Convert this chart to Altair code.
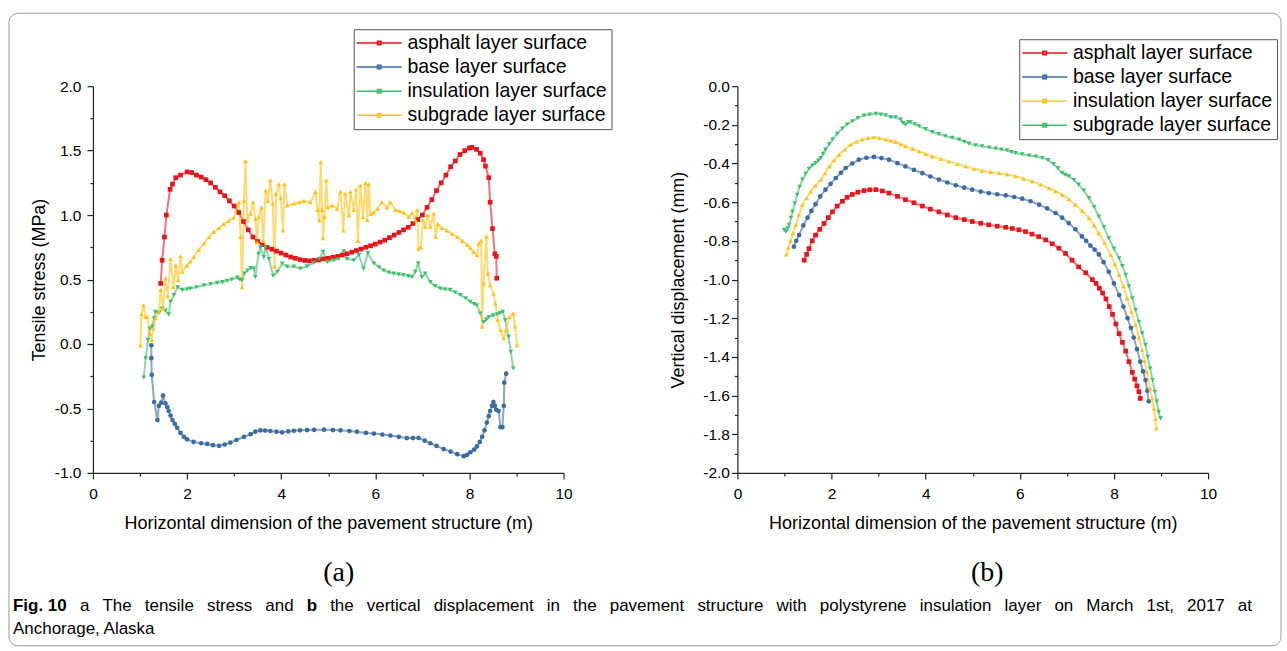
import altair as alt
import pandas as pd

SERIES = ["asphalt layer surface", "base layer surface",
          "insulation layer surface", "subgrade layer surface"]

RED, BLUE, GREEN, YELLOW = "#E8141B", "#3A6BA3", "#3DBE6C", "#FFC114"

# ---------------- panel (a): tensile stress (MPa) ----------------
stress_asphalt = [(1.44,0.47),(1.47,0.65),(1.52,0.83),(1.56,1.0),(1.64,1.2),(1.69,1.24),(1.76,1.29),(1.86,1.31),(2.0,1.335),(2.1,1.33),(2.2,1.31),(2.3,1.295),(2.4,1.275),(2.5,1.25),(2.6,1.215),(2.7,1.18),(2.8,1.15),(2.9,1.11),(3.0,1.07),(3.1,1.02),(3.2,0.95),(3.3,0.885),(3.4,0.83),(3.5,0.795),(3.6,0.77),(3.7,0.75),(3.8,0.735),(3.9,0.72),(4.0,0.705),(4.1,0.69),(4.2,0.675),(4.3,0.665),(4.4,0.655),(4.5,0.648),(4.6,0.645),(4.7,0.648),(4.8,0.652),(4.9,0.66),(5.0,0.665),(5.1,0.672),(5.2,0.68),(5.3,0.69),(5.4,0.70),(5.5,0.712),(5.6,0.725),(5.7,0.737),(5.8,0.75),(5.9,0.762),(6.0,0.775),(6.1,0.79),(6.2,0.805),(6.3,0.825),(6.4,0.845),(6.5,0.865),(6.6,0.885),(6.7,0.905),(6.8,0.935),(6.9,0.965),(7.0,1.0),(7.1,1.06),(7.2,1.12),(7.3,1.19),(7.4,1.25),(7.5,1.31),(7.6,1.375),(7.7,1.42),(7.8,1.47),(7.9,1.50),(8.0,1.52),(8.05,1.525),(8.15,1.51),(8.23,1.48),(8.3,1.43),(8.34,1.38),(8.41,1.29),(8.44,1.10),(8.49,0.895),(8.54,0.70),(8.57,0.68),(8.58,0.51)]

stress_base = [(1.24,-0.01),(1.24,-0.11),(1.25,-0.24),(1.30,-0.45),(1.37,-0.59),(1.40,-0.48),(1.45,-0.455),(1.49,-0.40),(1.54,-0.46),(1.58,-0.49),(1.61,-0.52),(1.65,-0.555),(1.69,-0.59),(1.74,-0.62),(1.79,-0.65),(1.86,-0.69),(1.93,-0.72),(2.0,-0.74),(2.14,-0.76),(2.3,-0.77),(2.43,-0.775),(2.55,-0.785),(2.68,-0.79),(2.8,-0.78),(2.92,-0.765),(3.05,-0.745),(3.21,-0.72),(3.35,-0.70),(3.45,-0.68),(3.56,-0.67),(3.66,-0.672),(3.77,-0.675),(3.9,-0.68),(4.02,-0.685),(4.15,-0.678),(4.27,-0.673),(4.4,-0.67),(4.55,-0.668),(4.7,-0.666),(4.91,-0.665),(5.1,-0.668),(5.26,-0.67),(5.45,-0.675),(5.61,-0.68),(5.8,-0.69),(5.97,-0.695),(6.15,-0.703),(6.32,-0.71),(6.5,-0.72),(6.67,-0.73),(6.8,-0.73),(6.92,-0.73),(7.05,-0.75),(7.17,-0.77),(7.3,-0.79),(7.45,-0.815),(7.6,-0.835),(7.74,-0.855),(7.88,-0.87),(7.95,-0.86),(8.02,-0.84),(8.1,-0.82),(8.16,-0.795),(8.22,-0.76),(8.27,-0.72),(8.32,-0.67),(8.37,-0.61),(8.41,-0.56),(8.44,-0.52),(8.48,-0.48),(8.51,-0.45),(8.54,-0.48),(8.57,-0.51),(8.62,-0.52),(8.66,-0.645),(8.70,-0.645),(8.73,-0.48),(8.74,-0.30),(8.78,-0.23)]

stress_insulation = [(1.08,-0.26),(1.12,-0.11),(1.17,0.03),(1.21,0.12),(1.26,0.135),(1.30,0.20),(1.33,0.25),(1.40,0.24),(1.47,0.275),(1.54,0.26),(1.61,0.23),(1.65,0.33),(1.72,0.38),(1.80,0.44),(1.90,0.42),(2.0,0.425),(2.07,0.43),(2.2,0.44),(2.36,0.456),(2.5,0.465),(2.64,0.474),(2.75,0.48),(2.85,0.49),(2.95,0.50),(3.07,0.515),(3.12,0.50),(3.17,0.495),(3.22,0.547),(3.28,0.57),(3.35,0.59),(3.42,0.585),(3.45,0.52),(3.52,0.70),(3.56,0.75),(3.63,0.675),(3.67,0.75),(3.74,0.66),(3.83,0.53),(3.92,0.56),(4.02,0.625),(4.13,0.60),(4.27,0.60),(4.41,0.585),(4.55,0.603),(4.69,0.63),(4.80,0.66),(4.89,0.715),(4.98,0.637),(5.12,0.65),(5.22,0.66),(5.33,0.72),(5.40,0.66),(5.54,0.65),(5.65,0.69),(5.75,0.585),(5.84,0.705),(5.97,0.625),(6.08,0.595),(6.18,0.57),(6.29,0.555),(6.39,0.547),(6.50,0.54),(6.60,0.535),(6.70,0.527),(6.78,0.52),(6.85,0.56),(6.91,0.625),(6.99,0.52),(7.06,0.547),(7.17,0.48),(7.27,0.45),(7.38,0.43),(7.48,0.425),(7.59,0.42),(7.7,0.40),(7.81,0.38),(7.92,0.355),(8.02,0.327),(8.10,0.31),(8.16,0.30),(8.23,0.237),(8.30,0.17),(8.36,0.19),(8.41,0.21),(8.5,0.22),(8.59,0.23),(8.65,0.24),(8.71,0.25),(8.76,0.185),(8.83,0.056),(8.88,-0.06),(8.93,-0.19)]

stress_subgrade = [(1.01,-0.01),(1.03,0.23),(1.07,0.30),(1.12,0.21),(1.15,0.21),(1.21,0.08),(1.25,0.03),(1.28,0.12),(1.33,0.20),(1.40,0.25),(1.44,0.42),(1.49,0.28),(1.54,0.51),(1.59,0.37),(1.65,0.66),(1.71,0.44),(1.76,0.61),(1.81,0.495),(1.86,0.68),(1.90,0.56),(2.0,0.61),(2.07,0.64),(2.14,0.675),(2.25,0.73),(2.36,0.78),(2.47,0.83),(2.57,0.87),(2.68,0.90),(2.78,0.93),(2.88,0.955),(2.99,0.98),(3.10,1.10),(3.14,0.83),(3.17,0.44),(3.21,1.11),(3.24,1.42),(3.28,0.96),(3.35,1.01),(3.40,1.10),(3.45,0.97),(3.49,0.79),(3.52,0.985),(3.58,1.06),(3.62,0.80),(3.67,1.19),(3.72,1.11),(3.77,1.27),(3.82,1.09),(3.86,0.60),(3.89,1.165),(3.95,1.24),(3.99,1.13),(4.04,0.88),(4.07,1.24),(4.13,1.075),(4.27,1.09),(4.38,1.10),(4.48,1.11),(4.62,1.10),(4.73,1.18),(4.77,1.04),(4.81,0.96),(4.84,1.41),(4.87,1.04),(4.89,0.82),(4.92,0.985),(4.96,1.27),(4.99,1.06),(5.08,1.075),(5.19,1.05),(5.26,1.18),(5.32,0.88),(5.36,1.165),(5.44,0.998),(5.47,1.18),(5.54,1.04),(5.59,1.20),(5.63,0.80),(5.68,1.23),(5.74,0.985),(5.79,1.25),(5.83,0.96),(5.86,1.24),(5.90,1.01),(5.97,1.02),(6.05,1.05),(6.14,1.10),(6.25,1.06),(6.32,1.10),(6.43,1.04),(6.52,1.03),(6.60,1.02),(6.71,0.985),(6.78,1.015),(6.85,0.96),(6.89,1.04),(6.92,0.74),(6.97,0.75),(7.01,0.96),(7.06,0.91),(7.11,1.0),(7.17,0.91),(7.24,1.01),(7.28,0.83),(7.33,0.93),(7.42,0.90),(7.52,0.88),(7.63,0.855),(7.74,0.83),(7.85,0.80),(7.95,0.77),(8.02,0.745),(8.09,0.715),(8.16,0.69),(8.20,0.78),(8.25,0.80),(8.27,0.134),(8.30,0.47),(8.36,0.835),(8.39,0.547),(8.44,0.456),(8.51,0.39),(8.55,0.315),(8.60,0.186),(8.66,0.108),(8.73,0.044),(8.78,0.108),(8.85,0.21),(8.93,0.237),(8.97,0.134),(9.01,-0.01)]

# ---------------- panel (b): vertical displacement (mm) ----------------
disp_asphalt = [(1.42,-0.90),(1.47,-0.87),(1.52,-0.84),(1.59,-0.80),(1.66,-0.77),(1.75,-0.74),(1.84,-0.71),(1.93,-0.68),(2.02,-0.65),(2.12,-0.62),(2.23,-0.595),(2.33,-0.575),(2.44,-0.56),(2.56,-0.548),(2.69,-0.54),(2.81,-0.536),(2.94,-0.535),(3.08,-0.542),(3.22,-0.553),(3.4,-0.57),(3.57,-0.587),(3.75,-0.603),(3.93,-0.62),(4.1,-0.636),(4.28,-0.65),(4.46,-0.666),(4.64,-0.68),(4.82,-0.69),(4.99,-0.70),(5.17,-0.709),(5.34,-0.717),(5.52,-0.724),(5.70,-0.73),(5.84,-0.736),(5.98,-0.743),(6.12,-0.752),(6.26,-0.765),(6.4,-0.778),(6.55,-0.795),(6.69,-0.815),(6.83,-0.838),(6.97,-0.865),(7.11,-0.90),(7.25,-0.935),(7.40,-0.965),(7.54,-1.0),(7.62,-1.02),(7.69,-1.045),(7.76,-1.07),(7.83,-1.10),(7.90,-1.14),(7.97,-1.18),(8.04,-1.23),(8.11,-1.28),(8.18,-1.325),(8.25,-1.37),(8.32,-1.425),(8.39,-1.48),(8.44,-1.515),(8.49,-1.55),(8.53,-1.58),(8.56,-1.615)]

disp_base = [(1.20,-0.83),(1.25,-0.80),(1.31,-0.77),(1.40,-0.72),(1.49,-0.68),(1.57,-0.645),(1.66,-0.61),(1.76,-0.57),(1.87,-0.535),(1.98,-0.505),(2.09,-0.475),(2.2,-0.448),(2.30,-0.423),(2.44,-0.40),(2.58,-0.38),(2.74,-0.37),(2.90,-0.366),(3.06,-0.372),(3.22,-0.38),(3.4,-0.398),(3.57,-0.415),(3.75,-0.433),(3.93,-0.45),(4.1,-0.467),(4.28,-0.483),(4.46,-0.498),(4.64,-0.513),(4.82,-0.525),(4.99,-0.535),(5.17,-0.545),(5.34,-0.553),(5.52,-0.559),(5.70,-0.565),(5.88,-0.573),(6.05,-0.582),(6.23,-0.595),(6.41,-0.613),(6.58,-0.632),(6.76,-0.656),(6.90,-0.68),(7.04,-0.708),(7.18,-0.74),(7.32,-0.777),(7.41,-0.80),(7.5,-0.825),(7.59,-0.845),(7.68,-0.87),(7.78,-0.91),(7.89,-0.96),(8.0,-1.02),(8.11,-1.08),(8.2,-1.14),(8.29,-1.20),(8.36,-1.25),(8.42,-1.30),(8.49,-1.36),(8.56,-1.425),(8.62,-1.475),(8.67,-1.52),(8.71,-1.575),(8.74,-1.63)]

disp_insulation = [(1.04,-0.87),(1.08,-0.835),(1.13,-0.80),(1.18,-0.76),(1.24,-0.717),(1.31,-0.665),(1.38,-0.613),(1.47,-0.578),(1.56,-0.544),(1.66,-0.513),(1.77,-0.483),(1.86,-0.45),(1.95,-0.415),(2.05,-0.383),(2.16,-0.354),(2.28,-0.327),(2.41,-0.302),(2.53,-0.287),(2.65,-0.276),(2.78,-0.268),(2.90,-0.264),(3.02,-0.268),(3.15,-0.276),(3.26,-0.282),(3.36,-0.288),(3.47,-0.30),(3.57,-0.31),(3.72,-0.324),(3.86,-0.337),(4.0,-0.35),(4.14,-0.363),(4.32,-0.376),(4.49,-0.389),(4.67,-0.402),(4.85,-0.415),(5.02,-0.427),(5.20,-0.437),(5.38,-0.444),(5.56,-0.449),(5.73,-0.457),(5.91,-0.466),(6.08,-0.478),(6.26,-0.492),(6.44,-0.508),(6.62,-0.527),(6.76,-0.543),(6.90,-0.561),(7.04,-0.585),(7.18,-0.613),(7.33,-0.645),(7.47,-0.682),(7.58,-0.72),(7.68,-0.76),(7.8,-0.81),(7.93,-0.872),(8.02,-0.92),(8.11,-0.976),(8.2,-1.035),(8.28,-1.097),(8.37,-1.165),(8.46,-1.235),(8.53,-1.30),(8.60,-1.364),(8.65,-1.42),(8.70,-1.477),(8.77,-1.563),(8.81,-1.615),(8.85,-1.667),(8.88,-1.72),(8.90,-1.77)]

disp_subgrade = [(0.99,-0.743),(1.03,-0.752),(1.07,-0.735),(1.10,-0.717),(1.14,-0.68),(1.17,-0.648),(1.22,-0.605),(1.27,-0.561),(1.32,-0.52),(1.38,-0.483),(1.45,-0.453),(1.52,-0.427),(1.59,-0.41),(1.66,-0.397),(1.72,-0.385),(1.77,-0.371),(1.82,-0.35),(1.87,-0.328),(1.95,-0.30),(2.02,-0.276),(2.12,-0.246),(2.23,-0.219),(2.33,-0.198),(2.44,-0.181),(2.56,-0.165),(2.69,-0.152),(2.81,-0.146),(2.94,-0.143),(3.05,-0.146),(3.15,-0.150),(3.26,-0.161),(3.36,-0.161),(3.47,-0.173),(3.52,-0.19),(3.57,-0.198),(3.63,-0.185),(3.68,-0.187),(3.77,-0.197),(3.86,-0.207),(4.0,-0.222),(4.14,-0.237),(4.28,-0.248),(4.42,-0.259),(4.56,-0.267),(4.71,-0.276),(4.82,-0.287),(4.92,-0.297),(5.06,-0.305),(5.20,-0.311),(5.35,-0.317),(5.49,-0.323),(5.61,-0.327),(5.73,-0.332),(5.82,-0.34),(5.91,-0.346),(6.05,-0.352),(6.20,-0.358),(6.34,-0.364),(6.48,-0.371),(6.60,-0.382),(6.72,-0.403),(6.81,-0.425),(6.90,-0.449),(6.97,-0.458),(7.04,-0.466),(7.15,-0.485),(7.25,-0.509),(7.36,-0.54),(7.47,-0.579),(7.58,-0.625),(7.68,-0.674),(7.79,-0.73),(7.89,-0.786),(8.0,-0.84),(8.11,-0.89),(8.18,-0.93),(8.25,-0.976),(8.32,-1.035),(8.39,-1.097),(8.46,-1.158),(8.53,-1.218),(8.60,-1.278),(8.67,-1.338),(8.72,-1.40),(8.77,-1.46),(8.82,-1.52),(8.87,-1.58),(8.91,-1.63),(8.95,-1.684),(8.99,-1.718)]

# ---------------- axis ticks ----------------
X_TICKS = [0, 1, 2, 3, 4, 5, 6, 7, 8, 9, 10]
Y_TICKS_A = [-1.0, -0.75, -0.5, -0.25, 0.0, 0.25, 0.5, 0.75, 1.0, 1.25, 1.5, 1.75, 2.0]
Y_TICKS_B = [-2.0, -1.9, -1.8, -1.7, -1.6, -1.5, -1.4, -1.3, -1.2, -1.1, -1.0,
             -0.9, -0.8, -0.7, -0.6, -0.5, -0.4, -0.3, -0.2, -0.1, 0.0]

X_TITLE = "Horizontal dimension of the pavement structure (m)"
FONT = "Liberation Sans"
W, H = 471, 387

CAPTION_1 = ["a", "The", "tensile", "stress", "and", "b", "the", "vertical", "displacement",
             "in", "the", "pavement", "structure", "with", "polystyrene", "insulation",
             "layer", "on", "March", "1st,", "2017", "at"]
CAPTION_BOLD = {"b"}
CAPTION_2 = "Anchorage, Alaska"


def to_frame(lists):
    rows = []
    for name, pts in zip(SERIES, lists):
        for i, (x, y) in enumerate(pts):
            rows.append({"x": x, "y": y, "series": name, "i": i})
    return pd.DataFrame(rows)


LEG_PATH = "M-4.5,0H4.5M-0.35,-0.35H0.35V0.35H-0.35Z"


def panel(df, colors, shapes, ydomain, yticks, mult, ytitle, legx, legy, ylabpad, ytitlepad):
    major_y = f"abs(datum.value*{mult} - round(datum.value*{mult})) < 0.001"
    major_x = "datum.value % 2 === 0"
    xaxis = alt.Axis(values=X_TICKS, tickCount=100, title=X_TITLE, grid=False,
                     labelExpr=f"{major_x} ? format(datum.value, 'd') : ''",
                     labelFontSize=15.5,
                     tickSize={"condition": {"test": major_x, "value": 6}, "value": 3},
                     labelOverlap=False, labelFlush=False, labelPadding=8, titlePadding=12)
    yaxis = alt.Axis(values=yticks, tickCount=100, title=ytitle, grid=False,
                     labelExpr=f"{major_y} ? replace(format(datum.value, '.1f'), '\u2212', '-') : ''",
                     labelFontSize=15.5,
                     tickSize={"condition": {"test": major_y, "value": 6}, "value": 3},
                     labelOverlap=False, labelFlush=False, labelPadding=ylabpad,
                     titlePadding=ytitlepad)
    legend = alt.Legend(title=None, orient="none", legendX=legx, legendY=legy,
                        symbolType=LEG_PATH, symbolSize=100, symbolStrokeWidth=1.5,
                        symbolOffset=11.75, labelOffset=18.5, labelFont=FONT,
                        labelFontSize=19.5, labelColor="black", labelLimit=400,
                        padding=4, rowPadding=3.1, strokeColor="#555555",
                        fillColor="white")
    base = alt.Chart(df)
    xs = alt.Scale(domain=[0, 10], nice=False)
    ys = alt.Scale(domain=ydomain, nice=False, zero=False)
    line = base.mark_line(strokeWidth=2, strokeOpacity=0.6).encode(
        x=alt.X("x:Q", scale=xs, axis=xaxis),
        y=alt.Y("y:Q", scale=ys, axis=yaxis),
        color=alt.Color("series:N", scale=alt.Scale(domain=SERIES, range=colors), legend=legend),
        order="i:Q",
    )
    pts = base.mark_point(filled=True, size=22, opacity=1).encode(
        x="x:Q", y="y:Q",
        fill=alt.Fill("series:N", scale=alt.Scale(domain=SERIES, range=colors), legend=None),
        shape=alt.Shape("series:N", scale=alt.Scale(domain=SERIES, range=shapes), legend=None),
    )
    return alt.layer(line, pts).resolve_scale(
        color="independent", fill="independent", shape="independent"
    ).resolve_legend(color="independent", fill="independent", shape="independent"
    ).properties(width=W, height=H)


left = panel(to_frame([stress_asphalt, stress_base, stress_insulation, stress_subgrade]),
             [RED, BLUE, GREEN, YELLOW],
             ["square", "circle", "triangle-down", "triangle-up"],
             [-1, 2], Y_TICKS_A, 2, "Tensile stress (MPa)", 261, -57, 6, 6)

right = panel(to_frame([disp_asphalt, disp_base, disp_insulation, disp_subgrade]),
              [RED, BLUE, YELLOW, GREEN],
              ["square", "circle", "triangle-up", "triangle-down"],
              [-2, 0], Y_TICKS_B, 5, "Vertical displacement (mm)", 282, -47, 2, 15)

# ---------------- caption / frame view ----------------
cap_df = pd.DataFrame({"k": [0]})
capbase = alt.Chart(cap_df).properties(width=W, height=10)
CAP_FONT = "Liberation Sans"
CAP_SIZE = 17

# approximate Arial advance widths (per em) used to justify caption line 1
_WID = {**{c: 0.556 for c in "abdeghnopqu0123456789"}, "c": 0.5, "f": 0.278, "i": 0.222,
        "j": 0.222, "k": 0.5, "l": 0.222, "m": 0.833, "r": 0.333, "s": 0.5, "t": 0.278,
        "v": 0.5, "w": 0.722, "x": 0.5, "y": 0.5, "z": 0.5, "T": 0.611, "M": 0.833,
        "A": 0.667, ",": 0.278, ".": 0.278}


def wid(word, bold=False):
    return sum(_WID.get(c, 0.556) for c in word) * CAP_SIZE * (1.1 if bold else 1.0)


def txt(s, x, y, **kw):
    opts = {"align": "left", "baseline": "middle"}
    opts.update(kw)
    return capbase.mark_text(text=s, **opts).encode(x=alt.value(x), y=alt.value(y))


frame = capbase.mark_rect(fillOpacity=0, stroke="#9a9a9a", strokeWidth=1, cornerRadius=9).encode(
    x=alt.value(-84), x2=alt.value(1189), y=alt.value(-588), y2=alt.value(45))

# justify line 1 from page x=79 to page x=1252 (view origin at page x=92)
x_start, x_end = 79 - 92, 1252 - 92
widths = [wid(w, w in CAPTION_BOLD) for w in CAPTION_1]
gap = (x_end - x_start - sum(widths)) / (len(CAPTION_1) - 1)
words = []
xpos = x_start
for w, wd in zip(CAPTION_1, widths):
    words.append(txt(w, xpos, 5, font=CAP_FONT, fontSize=CAP_SIZE,
                     fontWeight="bold" if w in CAPTION_BOLD else "normal"))
    xpos += wd + gap

cap = alt.layer(
    frame,
    txt("(a)", 246, -28, font="Liberation Serif", fontSize=28, align="center"),
    txt("(b)", 895, -28, font="Liberation Serif", fontSize=28, align="center"),
    txt("Fig. 10", -80, 5, font=CAP_FONT, fontSize=CAP_SIZE, fontWeight="bold"),
    *words,
    txt(CAPTION_2, -80, 28, font=CAP_FONT, fontSize=CAP_SIZE),
)

chart = alt.concat(left, right, cap, columns=2,
                   spacing={"row": 128, "column": 174}, bounds="flush").resolve_scale(
    color="independent", fill="independent", shape="independent"
).properties(
    padding={"left": 8, "top": 12, "right": 5, "bottom": 5}
).configure_view(stroke=None).configure_axis(
    labelFont=FONT, titleFont=FONT, titleFontSize=18,
    titleFontWeight="normal", labelColor="black", titleColor="black",
    domainColor="#222222", tickColor="#222222", domainWidth=1.2, tickWidth=1.2,
)

chart.save("out.html", embed_options={"renderer": "svg", "actions": False})
